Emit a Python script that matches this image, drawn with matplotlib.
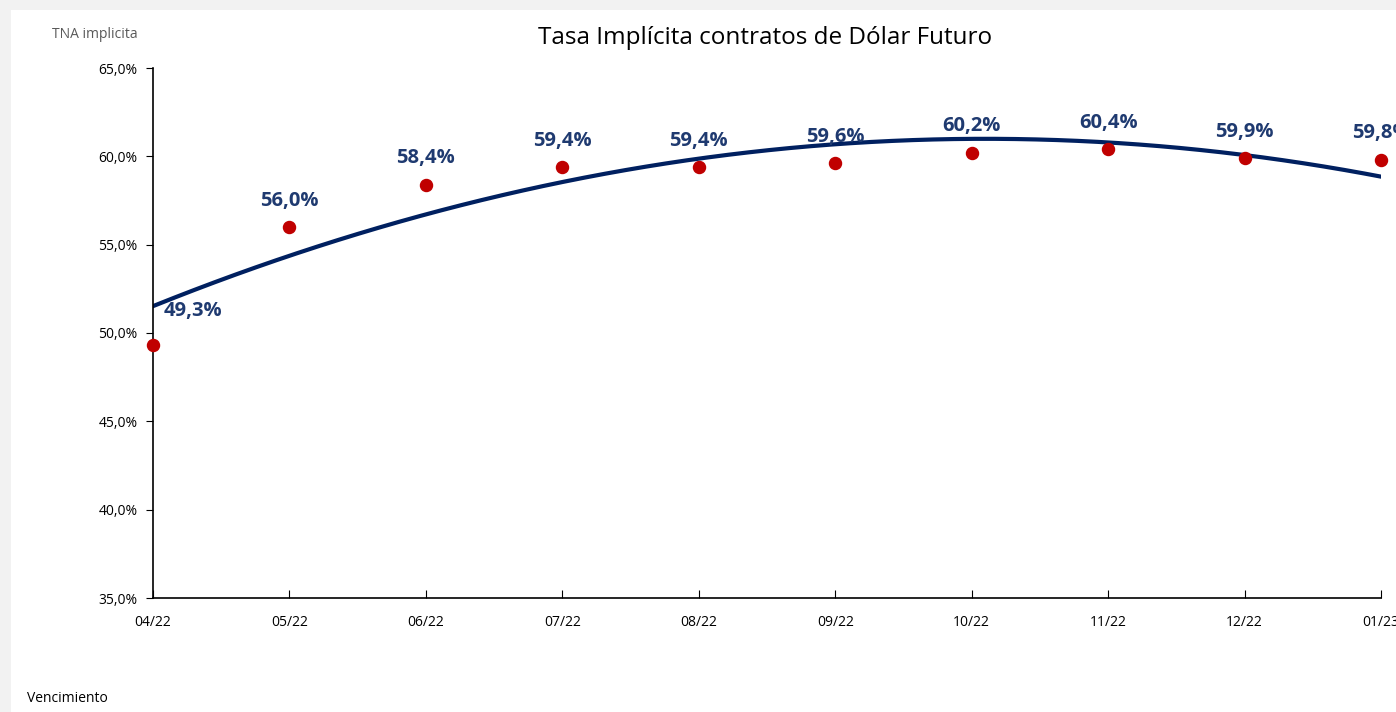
import numpy as np
import matplotlib
matplotlib.use('Agg')
from matplotlib import pyplot as plt
from matplotlib.patches import Rectangle

# datos
vencimientos = ['04/22', '05/22', '06/22', '07/22', '08/22', '09/22', '10/22', '11/22', '12/22', '01/23']
tna = [0.493, 0.560, 0.584, 0.594, 0.594, 0.596, 0.602, 0.604, 0.599, 0.598]
etiquetas = ['49,3%', '56,0%', '58,4%', '59,4%', '59,4%', '59,6%', '60,2%', '60,4%', '59,9%', '59,8%']
y_ticks = [0.35, 0.40, 0.45, 0.50, 0.55, 0.60, 0.65]

W, H = 1396, 712
plt.rcParams['font.family'] = ['Open Sans', 'DejaVu Sans']

fig = plt.figure(figsize=(W / 100, H / 100), dpi=100, facecolor='#f2f2f2')
fig.patches.append(Rectangle((11 / W, 0), 1, 1 - 10 / H, transform=fig.transFigure,
                             facecolor='white', edgecolor='none', zorder=-10))

ax = fig.add_axes([153 / W, 1 - 598 / H, (1381 - 153) / W, (598 - 68) / H])
ax.set_zorder(1)
ax.set_facecolor('none')

x = np.arange(len(vencimientos))

# linea de tendencia polinomica (orden 2), como la de Excel
coef = np.polyfit(x, tna, 2)
xs = np.linspace(0, len(x) - 1, 300)
ax.plot(xs, np.polyval(coef, xs), color='#002060', lw=3, zorder=2)

ax.scatter(x, tna, s=75, color='#c00000', zorder=3, clip_on=False)

for i, (xi, yi) in enumerate(zip(x, tna)):
    off = (29, 24.5) if i == 0 else (0, 19)
    ax.annotate(etiquetas[i], (xi, yi), xytext=off, textcoords='offset points',
                ha='center', va='center', fontsize=14.5, fontweight='bold',
                color='#1f3a70', annotation_clip=False)

ax.set_xlim(0, len(x) - 1)
ax.set_ylim(0.35, 0.65)
ax.set_xticks(x)
ax.set_xticklabels(vencimientos)
ax.set_yticks(y_ticks)
ax.set_yticklabels([('%.1f%%' % (v * 100)).replace('.', ',') for v in y_ticks])
ax.tick_params(axis='y', direction='out', length=5, labelsize=10, pad=6)
ax.tick_params(axis='x', direction='in', length=6, labelsize=10, pad=12)
for s in ['top', 'right']:
    ax.spines[s].set_visible(False)
for s in ['left', 'bottom']:
    ax.spines[s].set_linewidth(1.2)

fig.text(765 / W, 1 - 38 / H, 'Tasa Implícita contratos de Dólar Futuro',
         ha='center', va='center', fontsize=17.5)
fig.text(52 / W, 1 - 35 / H, 'TNA implicita', ha='left', va='center',
         fontsize=10, color='#595959')
fig.text(27 / W, 1 - 698 / H, 'Vencimiento', ha='left', va='center', fontsize=10)

fig.savefig('out.png', dpi=100, facecolor=fig.get_facecolor())
